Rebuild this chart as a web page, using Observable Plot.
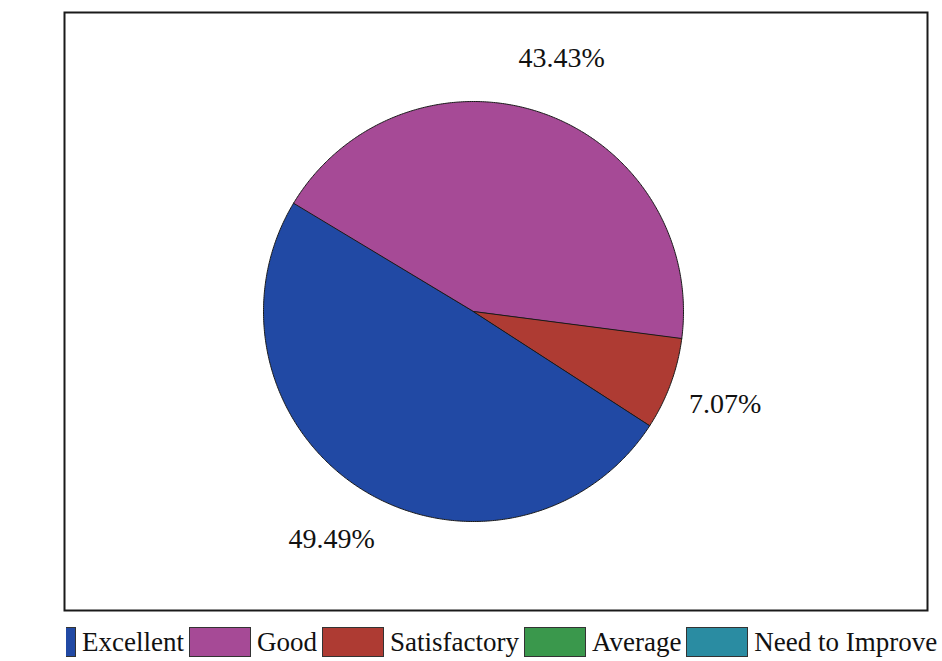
<!DOCTYPE html>
<html>
<head>
<meta charset="utf-8">
<script src="https://cdn.jsdelivr.net/npm/d3@7"></script>
<script src="https://cdn.jsdelivr.net/npm/@observablehq/plot@0.6"></script>
<style>
  html, body { margin: 0; padding: 0; background: #fff; }
  #page { position: relative; width: 942px; height: 661px; overflow: hidden; font-family: "Liberation Serif", "Times New Roman", serif; }
  #chart { position: absolute; left: 0; top: 0; }
  #chart svg text { font-family: "Liberation Serif", "Times New Roman", serif; }
  #legend { position: absolute; left: 66px; top: 627px; width: 876px; height: 32px; overflow: hidden; }
  #legend .row { display: flex; align-items: center; margin-left: -52px; white-space: nowrap; }
  #legend .sw { width: 62px; height: 30px; box-sizing: border-box; border: 1px solid #333; flex: none; }
  #legend .lb { font-family: "Liberation Serif", "Times New Roman", serif; font-size: 27px; color: #111; margin: 0 5px 0 6px; line-height: 30px; }
</style>
</head>
<body>
<div id="page">
  <div id="chart"></div>
  <div id="legend"><div class="row"></div></div>
</div>
<script>
// Rating categories and their share of responses (%)
const categories = ["Excellent", "Good", "Satisfactory", "Average", "Need to Improve"];
const shares = [49.49, 43.43, 7.07, 0, 0];
const colors = ["#2149a4", "#a64a96", "#ae3b33", "#3a984c", "#2a8ca2"];

// Layout of the plotting box and the pie (pixels)
const W = 942, H = 616;
const box = {left: 64, right: 927, top: 12, bottom: 610};
const cx = 473, cy = 311, R = 210;
const startDeg = 122.85;     // angle of the first slice, clockwise from 12 o'clock
const labelRadius = 1.276;   // label distance from centre, in pie radii
const serif = "Liberation Serif, Times New Roman, serif";

const data = categories.map((c, i) => ({category: c, share: shares[i]}));
const arcs = d3.pie().sort(null).value(d => d.share)
  .startAngle(startDeg * Math.PI / 180)
  .endAngle(startDeg * Math.PI / 180 + 2 * Math.PI)(data);

// Closed outline of each slice in pie-radius units (y pointing up)
const outline = [];
for (const a of arcs) {
  if (a.endAngle <= a.startAngle) continue;
  const cat = a.data.category;
  outline.push({category: cat, x: 0, y: 0});
  const n = Math.max(2, Math.ceil((a.endAngle - a.startAngle) / (Math.PI / 360)));
  for (let k = 0; k <= n; ++k) {
    const t = a.startAngle + (a.endAngle - a.startAngle) * k / n;
    outline.push({category: cat, x: Math.sin(t), y: Math.cos(t)});
  }
}

const labels = arcs.filter(a => a.data.share > 0).map(a => {
  const m = (a.startAngle + a.endAngle) / 2;
  return {x: labelRadius * Math.sin(m), y: labelRadius * Math.cos(m), text: d3.format(".2f")(a.data.share) + "%"};
});

const chart = Plot.plot({
  width: W,
  height: H,
  marginLeft: box.left,
  marginRight: W - box.right,
  marginTop: box.top,
  marginBottom: H - box.bottom,
  x: {domain: [(box.left - cx) / R, (box.right - cx) / R], axis: null},
  y: {domain: [(cy - box.bottom) / R, (cy - box.top) / R], axis: null},
  color: {domain: categories, range: colors},
  style: {fontFamily: serif, background: "#fff"},
  marks: [
    Plot.line(outline, {x: "x", y: "y", z: "category", fill: "category", stroke: "#1a1a1a", strokeWidth: 1, curve: "linear-closed"}),
    Plot.text(labels, {x: "x", y: "y", text: "text", fontSize: 28, fontFamily: serif, fill: "#111", textAnchor: "middle", lineAnchor: "middle"}),
    Plot.frame({stroke: "#1a1a1a", strokeWidth: 2})
  ]
});
document.getElementById("chart").appendChild(chart);

// Legend row built from the same categories and colours
const row = document.querySelector("#legend .row");
categories.forEach((c, i) => {
  const sw = document.createElement("span");
  sw.className = "sw";
  sw.style.background = colors[i];
  const lb = document.createElement("span");
  lb.className = "lb";
  lb.textContent = c;
  row.appendChild(sw);
  row.appendChild(lb);
});
</script>
</body>
</html>
